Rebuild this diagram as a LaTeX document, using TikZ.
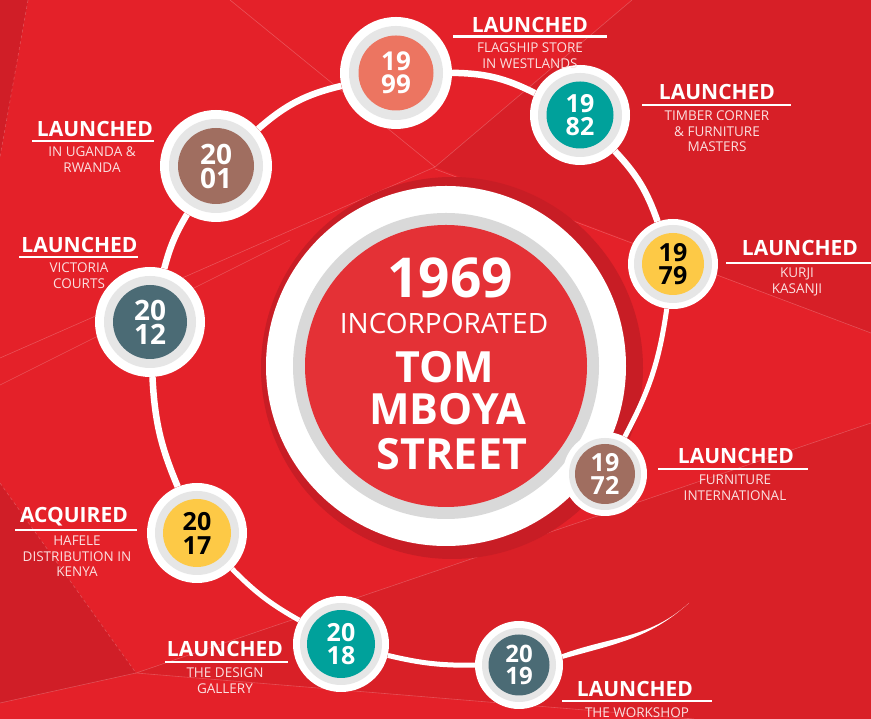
\documentclass[tikz,border=0pt]{standalone}
\usepackage{fontspec}
\setmainfont{Open Sans}
\pgfdeclarelayer{bgl}
\pgfdeclarelayer{linel}
\pgfsetlayers{bgl,linel,main}
\definecolor{bgred}{HTML}{E42129}
\definecolor{darkred}{HTML}{D71F27}
\definecolor{darkredb}{HTML}{D92027}
\definecolor{darkredl}{HTML}{D01E27}
\definecolor{shadowred}{HTML}{C81D25}
\definecolor{innerred}{HTML}{E43136}
\definecolor{maingray}{HTML}{D9D9D9}
\definecolor{ringgray}{HTML}{E6E6E6}
\definecolor{salmon}{HTML}{EC7561}
\definecolor{teal}{HTML}{00A19B}
\definecolor{yellowc}{HTML}{FDC946}
\definecolor{brownc}{HTML}{A06E60}
\definecolor{slate}{HTML}{4B6B75}
\definecolor{subwhite}{HTML}{FBE0E0}
\begin{document}
\begin{tikzpicture}[x=1pt,y=1pt,
  yr/.style n args={4}{circle, inner sep=0pt, minimum size=#1, fill=white,
    path picture={\fill[ringgray] (path picture bounding box.center) circle (#2);
                  \fill[#4] (path picture bounding box.center) circle (#3);}},
  yrtext/.style 2 args={font=\bfseries\fontsize{#1}{#2}\selectfont, align=center},
  head/.style={font=\bfseries\fontsize{21}{24}\selectfont, text=white, inner sep=0pt},
  subt/.style={font=\fontsize{13.5}{15.5}\selectfont, text=subwhite, inner sep=0pt, align=center, anchor=north},
  uline/.style={white, line width=2.4pt},
  conn/.style={white, line width=6.5pt},
  connthin/.style={white, line width=5pt},
  facet/.style={white, opacity=0.22, line width=0.6pt},
  maintext/.style={text=white, inner sep=0pt}
]
\useasboundingbox (0,0) rectangle (871,719);
\begin{pgfonlayer}{bgl}
  \fill[bgred] (0,0) rectangle (871,719);
  \fill[darkred] (632,719) -- (871,719) -- (871,386) -- (435,552) -- cycle;
  \fill[darkredb] (871,296) -- (871,0) -- (694,0) -- (136,46) -- cycle;
  \fill[darkredl] (0,236) -- (136,46) -- (0,16) -- cycle;
  \fill[darkredl] (0,719) -- (28,719) -- (0,562) -- cycle;
  \draw[facet, dashed] (28,719) -- (0,562);
  \draw[facet] (230,719) -- (435,552);
  \draw[facet] (0,361) -- (435,552) -- (632,719);
  \draw[facet] (435,550) -- (871,386);
  \draw[facet] (871,296) -- (136,46) -- (694,0);
  \draw[facet] (136,46) -- (0,16);
  \draw[facet, dashed] (0,236) -- (136,46);
  \draw[facet] (0,334) -- (290,479);
  \fill[shadowred] (452,351) circle (191pt);
  \node[circle, inner sep=0pt, minimum size=360pt, fill=white,
    path picture={\fill[maingray] (path picture bounding box.center) circle (153pt);
                  \fill[innerred] (path picture bounding box.center) circle (141pt);}] (main) at (446,353) {};
\end{pgfonlayer}

% main texts
\node[maintext, font=\bfseries\fontsize{55}{60}\selectfont] (t1969) at (450,441) {1969};
\node[maintext, font=\fontsize{28}{32}\selectfont] (tinc) at (444,396) {INCORPORATED};
\node[maintext, font=\bfseries\fontsize{43}{46}\selectfont] (ttom) at (445,352) {TOM};
\node[maintext, font=\bfseries\fontsize{43}{46}\selectfont] (tmboya) at (448,310) {MBOYA};
\node[maintext, font=\bfseries\fontsize{43}{46}\selectfont] (tstreet) at (452,265) {STREET};

% year circles
\node[yr={112pt}{47pt}{37.5pt}{salmon}, yrtext={26}{23}, text=white] (n1999) at (396,646) {19\\99};
\node[yr={100pt}{42pt}{33.5pt}{teal}, yrtext={25}{23}, text=white] (n1982) at (580,604) {19\\82};
\node[yr={90pt}{39pt}{31pt}{yellowc}, yrtext={25}{23}, text=black] (n1979) at (673,455) {19\\79};
\node[yr={84pt}{36pt}{30pt}{brownc}, yrtext={25}{23}, text=white] (n1972) at (605,245) {19\\72};
\node[yr={112pt}{47pt}{38pt}{brownc}, yrtext={28}{24}, text=white] (n2001) at (216,553) {20\\01};
\node[yr={110pt}{46pt}{37pt}{slate}, yrtext={28}{24}, text=white] (n2012) at (150,397) {20\\12};
\node[yr={100pt}{42pt}{34pt}{yellowc}, yrtext={25}{24}, text=black] (n2017) at (197,186) {20\\17};
\node[yr={96pt}{41pt}{34pt}{teal}, yrtext={25}{23}, text=white] (n2018) at (341,75) {20\\18};
\node[yr={88pt}{37pt}{30.5pt}{slate}, yrtext={24}{22}, text=white] (n2019) at (519,54) {20\\19};
\coordinate (arcend) at (689,116);

% connectors
\begin{pgfonlayer}{linel}
  \draw[conn] (n2001) to[bend left=14] (n1999);
  \draw[conn] (n1999) to[bend left=13] (n1982);
  \draw[conn] (n1982) to[bend left=12] (n1979);
  \draw[connthin] (n1979) to[bend left=10] (n1972);
  \draw[conn] (n2001) to[bend right=8] (n2012);
  \draw[conn] (n2012) to[bend right=10] (n2017);
  \draw[connthin] (n2017) to[bend right=8] (n2018);
  \draw[connthin] (n2018) to[bend right=7] (n2019);
  \fill[white] (n2019.14) to[out=20,in=222] (arcend) to[out=222,in=16] (n2019.8) -- cycle;
\end{pgfonlayer}

% labels
\node[head] (h1999) at (530,694) {LAUNCHED};
\draw[uline] (453,682.5) -- (607,682.5);
\node[subt] (s1999) at (530,676) {FLAGSHIP STORE\\IN WESTLANDS};

\node[head] (h1982) at (717,626.5) {LAUNCHED};
\draw[uline] (642,614) -- (791,614);
\node[subt] (s1982) at (717,608) {TIMBER CORNER\\\& FURNITURE\\MASTERS};

\node[head] (h1979) at (800,471) {LAUNCHED};
\draw[uline] (726,456) -- (871,456);
\node[subt] (s1979) at (797,451) {KURJI\\KASANJI};

\node[head] (h2001) at (95,589.5) {LAUNCHED};
\draw[uline] (32,578) -- (154,578);
\node[subt] (s2001) at (92,572) {IN UGANDA \&\\RWANDA};

\node[head] (h2012) at (79.5,474) {LAUNCHED};
\draw[uline] (19,462) -- (138,462);
\node[subt] (s2012) at (79,456) {VICTORIA\\COURTS};

\node[head] (h1972) at (736,263) {LAUNCHED};
\draw[uline] (658,250) -- (808,250);
\node[subt] (s1972) at (735,244) {FURNITURE\\INTERNATIONAL};

\node[head] (h2017) at (74,202.5) {ACQUIRED};
\draw[uline] (15,189) -- (137,189);
\node[subt] (s2017) at (77,183) {HAFELE\\DISTRIBUTION IN\\KENYA};

\node[head] (h2018) at (225,70) {LAUNCHED};
\draw[uline] (165,57) -- (288,57);
\node[subt] (s2018) at (225,51) {THE DESIGN\\GALLERY};

\node[head] (h2019) at (635,29.5) {LAUNCHED};
\draw[uline] (562,18) -- (712,18);
\node[subt] (s2019) at (637,11) {THE WORKSHOP};
\end{tikzpicture}
\end{document}
